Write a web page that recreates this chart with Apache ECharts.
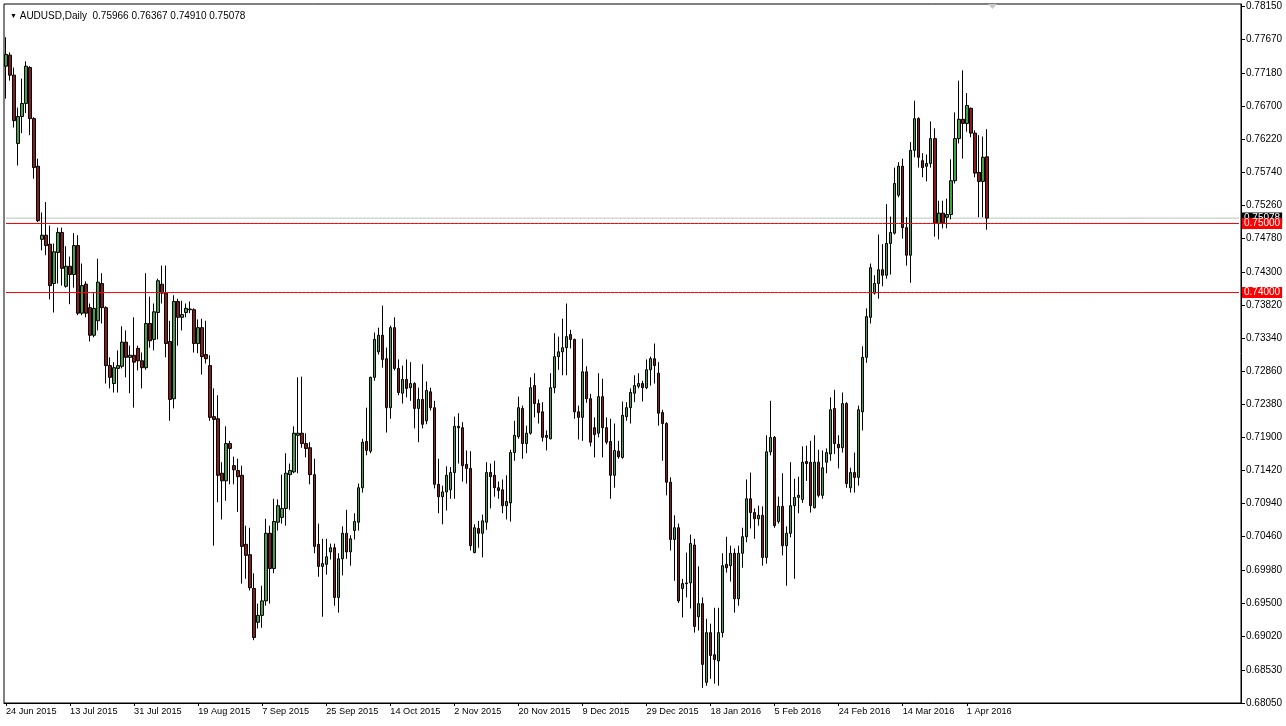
<!DOCTYPE html>
<html>
<head>
<meta charset="utf-8">
<script src="https://cdn.jsdelivr.net/npm/echarts@6/dist/echarts.min.js"></script>
<style>
html,body{margin:0;padding:0;background:#fff;}
#chart{width:1286px;height:726px;}
</style>
</head>
<body>
<div id="chart"></div>
<script>
// ---- data ----
const symbolTitle = 'AUDUSD,Daily';
const lastQuote = '0.75966 0.76367 0.74910 0.75078';

const xTickLabels = ['24 Jun 2015','13 Jul 2015','31 Jul 2015','19 Aug 2015','7 Sep 2015','25 Sep 2015',
  '14 Oct 2015','2 Nov 2015','20 Nov 2015','9 Dec 2015','29 Dec 2015','18 Jan 2016','5 Feb 2016',
  '24 Feb 2016','14 Mar 2016','1 Apr 2016'];

const yTickValues = [0.68050,0.68530,0.69020,0.69500,0.69980,0.70460,0.70940,0.71420,0.71900,0.72380,
  0.72860,0.73340,0.73820,0.74300,0.74780,0.75260,0.75740,0.76220,0.76700,0.77180,0.77670,0.78150];

const levelLines = [0.75000, 0.74000];
const bidPrice = 0.75078;

const open = [
0.7728,0.7744,0.7715,0.7616,0.7655,0.7674,0.7726,0.7652,0.7583,0.7477,
0.7483,0.7470,0.7413,0.7458,0.7487,0.7409,0.7438,0.7426,0.7468,0.7370,
0.7412,0.7378,0.7338,0.7359,0.7413,0.7378,0.7294,0.7268,0.7290,0.7293,
0.7328,0.7306,0.7309,0.7319,0.7301,0.7291,0.7355,0.7332,0.7371,0.7412,
0.7399,0.7329,0.7246,0.7387,0.7364,0.7371,0.7375,0.7375,0.7326,0.7349,
0.7310,0.7294,0.7220,0.7217,0.7138,0.7127,0.7181,0.7149,0.7142,0.7135,
0.7035,0.7020,0.6971,0.6922,0.6932,0.6953,0.7051,0.7000,0.7067,0.7074,
0.7087,0.7136,0.7140,0.7193,0.7196,0.7181,0.7175,0.7136,0.7035,0.7003,
0.7006,0.7024,0.7030,0.6958,0.7014,0.7051,0.7024,0.7055,0.7067,0.7117,
0.7184,0.7170,0.7277,0.7314,0.7338,0.7304,0.7233,0.7349,0.7290,0.7254,
0.7274,0.7262,0.7268,0.7232,0.7245,0.7214,0.7256,0.7233,0.7122,0.7104,
0.7111,0.7114,0.7139,0.7206,0.7204,0.7151,0.7145,0.7023,0.7058,0.7051,
0.7067,0.7139,0.7135,0.7117,0.7114,0.7091,0.7095,0.7168,0.7191,0.7232,
0.7181,0.7196,0.7265,0.7239,0.7227,0.7193,0.7188,0.7262,0.7307,0.7314,
0.7320,0.7339,0.7332,0.7227,0.7219,0.7285,0.7246,0.7204,0.7196,0.7249,
0.7204,0.7184,0.7135,0.7170,0.7161,0.7220,0.7233,0.7254,0.7264,0.7268,
0.7262,0.7288,0.7304,0.7283,0.7226,0.7210,0.7125,0.7042,0.7059,0.6971,
0.6978,0.6979,0.7034,0.6930,0.6949,0.6835,0.6907,0.6875,0.6866,0.6907,
0.7006,0.7004,0.7022,0.6956,0.7022,0.7046,0.7101,0.7081,0.7072,0.7077,
0.7016,0.7169,0.7190,0.7068,0.7090,0.7033,0.7051,0.7091,0.7103,0.7100,
0.7155,0.7154,0.7088,0.7154,0.7106,0.7154,0.7166,0.7232,0.7180,0.7175,
0.7239,0.7117,0.7139,0.7132,0.7227,0.7306,0.7364,0.7399,0.7413,0.7433,
0.7425,0.7471,0.7486,0.7541,0.7583,0.7494,0.7454,0.7606,0.7652,0.7591,
0.7583,0.7587,0.7623,0.7500,0.7515,0.7509,0.7513,0.7562,0.7623,0.7651,
0.7645,0.7667,0.7631,0.7574,0.7561,0.75966];

const high = [
0.7770,0.7748,0.7726,0.7668,0.7710,0.7735,0.7728,0.7654,0.7594,0.7516,
0.7531,0.7497,0.7471,0.7494,0.7494,0.7467,0.7452,0.7486,0.7483,0.7442,
0.7416,0.7384,0.7399,0.7449,0.7428,0.7380,0.7306,0.7299,0.7316,0.7351,
0.7345,0.7323,0.7364,0.7323,0.7313,0.7428,0.7394,0.7384,0.7420,0.7439,
0.7439,0.7359,0.7396,0.7391,0.7388,0.7384,0.7387,0.7377,0.7361,0.7362,
0.7359,0.7309,0.7261,0.7251,0.7154,0.7206,0.7185,0.7162,0.7159,0.7149,
0.7062,0.7059,0.6993,0.6949,0.6975,0.7072,0.7062,0.7101,0.7100,0.7136,
0.7167,0.7152,0.7206,0.7277,0.7278,0.7196,0.7183,0.7159,0.7065,0.7043,
0.7043,0.7036,0.7036,0.7022,0.7061,0.7085,0.7048,0.7080,0.7123,0.7188,
0.7233,0.7278,0.7342,0.7349,0.7381,0.7320,0.7352,0.7364,0.7303,0.7294,
0.7303,0.7299,0.7270,0.7262,0.7296,0.7271,0.7262,0.7243,0.7159,0.7120,
0.7148,0.7147,0.7220,0.7225,0.7212,0.7171,0.7170,0.7064,0.7069,0.7078,
0.7154,0.7152,0.7156,0.7126,0.7129,0.7135,0.7172,0.7214,0.7249,0.7236,
0.7207,0.7277,0.7283,0.7245,0.7241,0.7200,0.7283,0.7341,0.7336,0.7362,
0.7384,0.7346,0.7333,0.7236,0.7333,0.7293,0.7253,0.7219,0.7283,0.7275,
0.7219,0.7217,0.7210,0.7185,0.7242,0.7241,0.7261,0.7280,0.7283,0.7272,
0.7303,0.7307,0.7326,0.7299,0.7230,0.7212,0.7132,0.7077,0.7065,0.6985,
0.7023,0.7049,0.7043,0.7003,0.6958,0.6927,0.6920,0.6943,0.6943,0.7022,
0.7046,0.7033,0.7029,0.7033,0.7059,0.7129,0.7139,0.7087,0.7091,0.7090,
0.7193,0.7243,0.7192,0.7104,0.7138,0.7061,0.7154,0.7130,0.7133,0.7177,
0.7178,0.7185,0.7193,0.7172,0.7171,0.7174,0.7248,0.7259,0.7193,0.7255,
0.7241,0.7146,0.7168,0.7236,0.7322,0.7377,0.7442,0.7425,0.7484,0.7470,
0.7528,0.7510,0.7581,0.7589,0.7594,0.7509,0.7618,0.7678,0.7654,0.7602,
0.7600,0.7648,0.7638,0.7533,0.7533,0.7536,0.7593,0.7661,0.7707,0.7722,
0.7689,0.7668,0.7635,0.7628,0.7626,0.76367];

const low = [
0.7681,0.7707,0.7639,0.7584,0.7631,0.7660,0.7628,0.7565,0.7502,0.7461,
0.7454,0.7390,0.7371,0.7413,0.7410,0.7407,0.7383,0.7407,0.7367,0.7367,
0.7364,0.7329,0.7335,0.7345,0.7355,0.7268,0.7261,0.7255,0.7255,0.7290,
0.7277,0.7254,0.7233,0.7287,0.7261,0.7288,0.7320,0.7316,0.7332,0.7384,
0.7306,0.7214,0.7232,0.7323,0.7345,0.7364,0.7370,0.7313,0.7312,0.7281,
0.7297,0.7214,0.7033,0.7096,0.7071,0.7098,0.7122,0.7122,0.7082,0.6978,
0.6985,0.6968,0.6896,0.6913,0.6914,0.6946,0.6949,0.6993,0.7055,0.7065,
0.7062,0.7085,0.7138,0.7138,0.7175,0.7161,0.7122,0.7022,0.6988,0.6930,
0.6991,0.7013,0.6946,0.6936,0.6990,0.7014,0.7004,0.7042,0.7055,0.7110,
0.7164,0.7167,0.7272,0.7310,0.7291,0.7197,0.7217,0.7287,0.7251,0.7239,
0.7248,0.7243,0.7203,0.7183,0.7203,0.7209,0.7229,0.7116,0.7080,0.7064,
0.7084,0.7101,0.7101,0.7152,0.7126,0.7123,0.7026,0.7022,0.7030,0.7016,
0.7056,0.7087,0.7104,0.7101,0.7080,0.7071,0.7068,0.7156,0.7188,0.7159,
0.7167,0.7194,0.7219,0.7210,0.7184,0.7171,0.7187,0.7254,0.7288,0.7280,
0.7280,0.7319,0.7217,0.7187,0.7185,0.7240,0.7177,0.7161,0.7190,0.7161,
0.7180,0.7101,0.7117,0.7159,0.7159,0.7214,0.7210,0.7241,0.7261,0.7242,
0.7260,0.7265,0.7268,0.7207,0.7156,0.7106,0.7026,0.6982,0.6950,0.6929,
0.6958,0.6942,0.6907,0.6910,0.6827,0.6830,0.6840,0.6833,0.6830,0.6900,
0.6994,0.6981,0.6936,0.6946,0.7001,0.7038,0.7058,0.7043,0.7062,0.7004,
0.7007,0.7164,0.7059,0.7065,0.7019,0.6975,0.7045,0.6985,0.7080,0.7095,
0.7127,0.7081,0.7087,0.7103,0.7101,0.7138,0.7156,0.7166,0.7145,0.7168,
0.7117,0.7110,0.7110,0.7120,0.7200,0.7298,0.7355,0.7397,0.7391,0.7409,
0.7420,0.7426,0.7484,0.7538,0.7478,0.7439,0.7414,0.7596,0.7581,0.7567,
0.7561,0.7581,0.7481,0.7477,0.7493,0.7493,0.7506,0.7558,0.7616,0.7594,
0.7633,0.7625,0.7567,0.7509,0.7509,0.74910];

const close = [
0.7745,0.7715,0.7649,0.7655,0.7674,0.7728,0.7652,0.7581,0.7504,0.7483,
0.7468,0.7410,0.7459,0.7487,0.7435,0.7438,0.7426,0.7468,0.7370,0.7410,
0.7370,0.7338,0.7377,0.7415,0.7378,0.7294,0.7277,0.7291,0.7294,0.7328,
0.7306,0.7309,0.7299,0.7301,0.7291,0.7355,0.7330,0.7372,0.7417,0.7399,
0.7326,0.7245,0.7387,0.7364,0.7368,0.7377,0.7376,0.7326,0.7349,0.7307,
0.7304,0.7219,0.7216,0.7135,0.7127,0.7181,0.7174,0.7143,0.7133,0.7032,
0.7019,0.6972,0.6900,0.6932,0.6953,0.7051,0.7000,0.7068,0.7091,0.7087,
0.7138,0.7142,0.7196,0.7196,0.7181,0.7174,0.7136,0.7032,0.7003,0.7007,
0.7017,0.7030,0.6958,0.7014,0.7051,0.7024,0.7043,0.7068,0.7117,0.7183,
0.7171,0.7277,0.7332,0.7338,0.7303,0.7233,0.7349,0.7290,0.7255,0.7274,
0.7261,0.7268,0.7232,0.7245,0.7209,0.7258,0.7233,0.7122,0.7104,0.7111,
0.7135,0.7139,0.7206,0.7204,0.7149,0.7145,0.7033,0.7059,0.7051,0.7069,
0.7139,0.7133,0.7117,0.7113,0.7091,0.7097,0.7168,0.7193,0.7233,0.7181,
0.7196,0.7262,0.7239,0.7226,0.7190,0.7190,0.7262,0.7307,0.7314,0.7320,
0.7336,0.7332,0.7227,0.7219,0.7285,0.7246,0.7183,0.7194,0.7249,0.7204,
0.7183,0.7135,0.7171,0.7162,0.7222,0.7233,0.7255,0.7265,0.7268,0.7262,
0.7288,0.7304,0.7294,0.7225,0.7210,0.7125,0.7042,0.7059,0.6953,0.6978,
0.6979,0.7036,0.6916,0.6949,0.6861,0.6907,0.6874,0.6868,0.6907,0.7004,
0.7001,0.7022,0.6956,0.7022,0.7046,0.7101,0.7081,0.7072,0.7077,0.7016,
0.7169,0.7190,0.7062,0.7090,0.7033,0.7051,0.7091,0.7103,0.7106,0.7154,
0.7152,0.7091,0.7154,0.7106,0.7146,0.7168,0.7230,0.7181,0.7175,0.7239,
0.7123,0.7139,0.7132,0.7230,0.7306,0.7365,0.7436,0.7413,0.7433,0.7425,
0.7471,0.7487,0.7558,0.7583,0.7494,0.7454,0.7606,0.7652,0.7596,0.7581,
0.7587,0.7623,0.7500,0.7515,0.7501,0.7513,0.7562,0.7623,0.7651,0.7645,
0.7671,0.7631,0.7573,0.7561,0.7596,0.75078];

// ---- build categories (trading days incl. Sunday sessions) + empty right shift ----
const totalSlots = 309;
const categories = [];
(function(){
  let d = new Date(Date.UTC(2015, 5, 24));
  const mon = ['Jan','Feb','Mar','Apr','May','Jun','Jul','Aug','Sep','Oct','Nov','Dec'];
  while (categories.length < open.length) {
    if (d.getUTCDay() !== 6) categories.push(d.getUTCDate() + ' ' + mon[d.getUTCMonth()] + ' ' + d.getUTCFullYear());
    d = new Date(d.getTime() + 86400000);
  }
  while (categories.length < totalSlots) categories.push('');
})();

const candleData = open.map((o, i) => [o, close[i], low[i], high[i]]);
while (candleData.length < totalSlots) candleData.push('-');

const font = '"Liberation Sans", Arial, sans-serif';

// horizontal price level: a flat line series over the whole axis with a boxed end label
function levelSeries(value, color, bg, z) {
  return {
    type: 'line', data: categories.map(() => value), silent: true, z: z,
    symbol: 'none', showSymbol: false,
    lineStyle: {color: color, width: 1, type: 'solid'},
    itemStyle: {color: color},
    emphasis: {disabled: true},
    endLabel: {
      show: true, formatter: () => value.toFixed(5), distance: 3,
      backgroundColor: bg, color: '#fff', padding: [1, 2, 0, 2],
      fontFamily: font, fontSize: 10
    }
  };
}

const chart = echarts.init(document.getElementById('chart'), null, {renderer: 'canvas'});
chart.setOption({
  animation: false,
  backgroundColor: '#ffffff',
  title: {
    text: '{t|▼} ' + symbolTitle + '  ' + lastQuote,
    left: 5, top: 6,
    textStyle: {fontFamily: font, fontSize: 10, fontWeight: 'normal', color: '#000',
      rich: {t: {fontSize: 7, color: '#000'}}}
  },
  grid: {left: 4, right: 45, top: 4, bottom: 23, show: true, borderColor: '#000', borderWidth: 1, backgroundColor: '#fff'},
  xAxis: {
    type: 'category', data: categories, boundaryGap: true,
    axisLine: {show: true, onZero: false, lineStyle: {color: '#000'}},
    axisTick: {show: true, alignWithLabel: true, length: 3, lineStyle: {color: '#000'},
      interval: (idx) => idx % 16 === 0 && idx <= 240},
    axisLabel: {
      interval: (idx) => idx % 16 === 0 && idx <= 240,
      formatter: (v, idx) => xTickLabels[Math.round(idx / 16)] || '',
      align: 'left', margin: 4, color: '#000', fontFamily: font, fontSize: 9.2, hideOverlap: false
    },
    splitLine: {show: false}
  },
  yAxis: {
    type: 'value', position: 'right', min: 0.68050, max: 0.781812, scale: true,
    axisLine: {show: true, lineStyle: {color: '#000'}},
    axisTick: {show: true, length: 4, lineStyle: {color: '#000'}, customValues: yTickValues},
    axisLabel: {customValues: yTickValues, formatter: (v) => v.toFixed(5), color: '#000',
      fontFamily: font, fontSize: 10, margin: 5},
    splitLine: {show: false}
  },
  graphic: [{
    type: 'polygon', shape: {points: [[988, 4], [997, 4], [992.5, 9]]},
    style: {fill: '#c8c8c8'}
  }],
  series: [
    levelSeries(bidPrice, '#c0c0c0', '#000000', 1),
    levelSeries(levelLines[0], '#ff0000', '#ff0000', 3),
    levelSeries(levelLines[1], '#ff0000', '#ff0000', 3),
    {
      type: 'candlestick', name: 'AUDUSD', z: 2,
      data: candleData,
      barWidth: 3,
      itemStyle: {
        color: '#3fa33f', color0: '#8c1a1a',
        borderColor: '#000', borderColor0: '#000', borderWidth: 1
      }
    }
  ]
});
</script>
</body>
</html>
